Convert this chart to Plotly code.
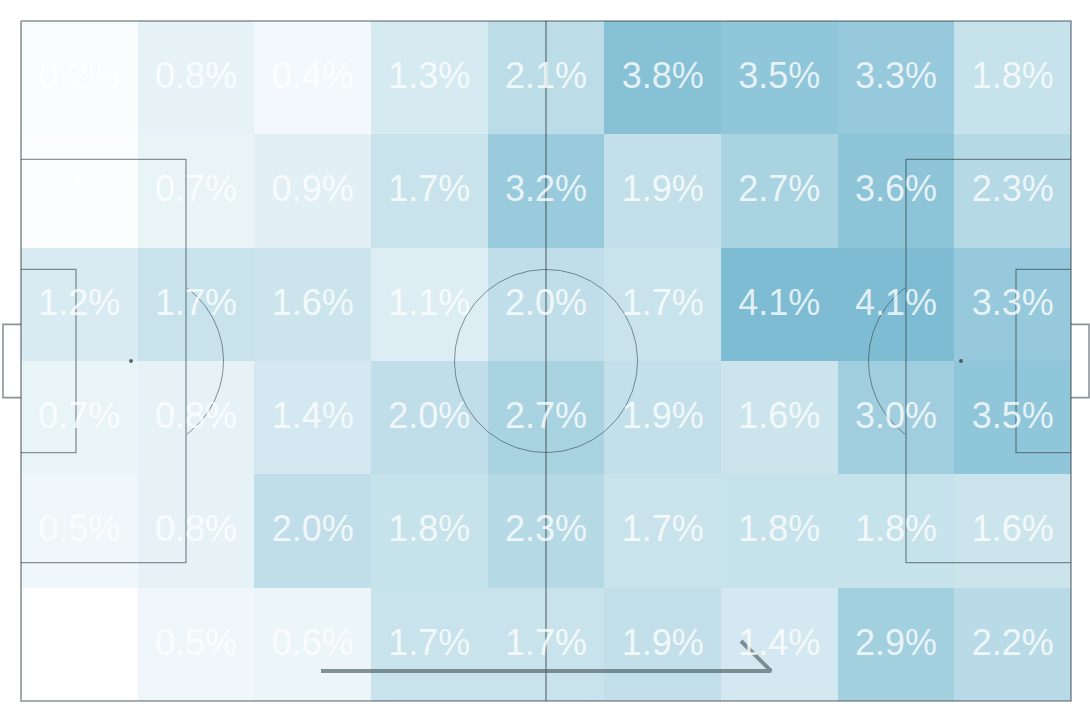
import numpy as np
import plotly.graph_objects as go

# Share of events per pitch zone (%), top row first; 0 means an empty zone
row_1 = [0.2, 0.8, 0.4, 1.3, 2.1, 3.8, 3.5, 3.3, 1.8]
row_2 = [0.1, 0.7, 0.9, 1.7, 3.2, 1.9, 2.7, 3.6, 2.3]
row_3 = [1.2, 1.7, 1.6, 1.1, 2.0, 1.7, 4.1, 4.1, 3.3]
row_4 = [0.7, 0.8, 1.4, 2.0, 2.7, 1.9, 1.6, 3.0, 3.5]
row_5 = [0.5, 0.8, 2.0, 1.8, 2.3, 1.7, 1.8, 1.8, 1.6]
row_6 = [0.0, 0.5, 0.6, 1.7, 1.7, 1.9, 1.4, 2.9, 2.2]
rows = [row_1, row_2, row_3, row_4, row_5, row_6]

L, W = 105.0, 68.0
x_edges = np.linspace(0, L, 10)
y_edges = np.linspace(0, W, 7)
x_mid = (x_edges[:-1] + x_edges[1:]) / 2
y_mid = (y_edges[:-1] + y_edges[1:]) / 2

LINE = "rgba(45,60,68,0.55)"
fig = go.Figure()
fig.add_trace(go.Heatmap(
    x=x_edges, y=y_edges, z=rows, zmin=0, zmax=4.1,
    colorscale=[[0, "#ffffff"], [1, "#7dbcd2"]],
    showscale=False, hoverinfo="skip",
))


def line(xs, ys, width=1.0, color=LINE):
    fig.add_trace(go.Scatter(x=xs, y=ys, mode="lines", hoverinfo="skip",
                             line=dict(color=color, width=width), showlegend=False))


def box(x0, x1, y0, y1, width=1.0):
    line([x0, x1, x1, x0, x0], [y0, y0, y1, y1, y0], width)


mid_y = W / 2
box(0, L, 0, W, 1.6)
line([L / 2, L / 2], [0, W], 1.5)
for x0, x1 in [(0, 16.5), (L, L - 16.5)]:
    line([x0, x1, x1, x0], [mid_y - 20.16, mid_y - 20.16, mid_y + 20.16, mid_y + 20.16], 1.3)
for x0, x1 in [(0, 5.5), (L, L - 5.5)]:
    line([x0, x1, x1, x0], [mid_y - 9.16, mid_y - 9.16, mid_y + 9.16, mid_y + 9.16], 1.3)
for x0, x1 in [(0, -1.8), (L, L + 1.8)]:
    line([x0, x1, x1, x0], [mid_y - 3.66, mid_y - 3.66, mid_y + 3.66, mid_y + 3.66], 1.6)

t = np.linspace(0, 2 * np.pi, 181)
line(L / 2 + 9.15 * np.cos(t), mid_y + 9.15 * np.sin(t), 1.0)
a = np.arccos(5.5 / 9.15)
t = np.linspace(-a, a, 61)
line(11.1 + 9.15 * np.cos(t), mid_y + 9.15 * np.sin(t), 1.0)
line(L - 11.1 - 9.15 * np.cos(t), mid_y + 9.15 * np.sin(t), 1.0)
fig.add_trace(go.Scatter(x=[11, L - 11], y=[mid_y, mid_y], mode="markers", hoverinfo="skip",
                         marker=dict(color="rgba(45,60,68,0.75)", size=4), showlegend=False))

# attack direction arrow
ARROW = "rgba(80,98,100,0.68)"
line([30, 75, 72], [65, 65, 62], 4, ARROW)

xs, ys, labels = [], [], []
for j, row in enumerate(rows):
    for i, v in enumerate(row):
        if v > 0:
            xs.append(x_mid[i])
            ys.append(y_mid[j] + 0.13)
            labels.append(f"{v:.1f}%")
fig.add_trace(go.Scatter(x=xs, y=ys, text=labels, mode="text", hoverinfo="skip", showlegend=False,
                         textposition="middle center",
                         textfont=dict(family="Liberation Sans, Arial", size=36,
                                       color="rgba(255,255,255,0.78)")))

fig.update_layout(
    width=1090, height=720, margin=dict(l=0, r=0, t=0, b=0),
    paper_bgcolor="white", plot_bgcolor="white", showlegend=False,
    xaxis=dict(range=[-2.1, 106.9], visible=False, fixedrange=True),
    yaxis=dict(range=[69.9, -2.1], visible=False, fixedrange=True),
)
fig.write_html("out.html", post_script="document.body.style.margin='0';", config=dict(displayModeBar=False))
